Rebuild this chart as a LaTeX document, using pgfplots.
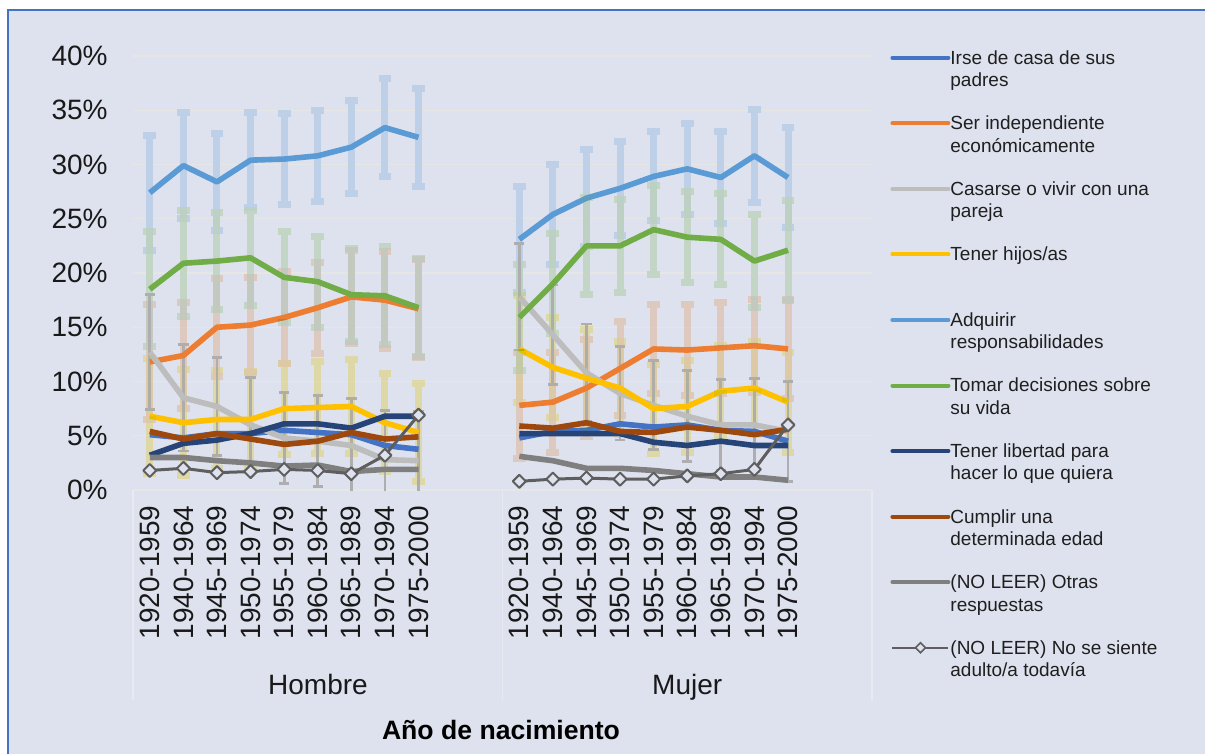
\documentclass[border=0pt]{standalone}
\usepackage{pgfplots}
\pgfplotsset{compat=1.18}
\usepackage{pgfplotstable}
\usepackage{fontspec}
\setmainfont{Liberation Sans}

\definecolor{bg}{RGB}{222,226,238}
\definecolor{gridcol}{RGB}{230,230,228}
\definecolor{sepcol}{RGB}{232,234,241}
\definecolor{bordercol}{RGB}{68,114,196}
\definecolor{irse}{HTML}{4472C4}
\definecolor{ser}{HTML}{ED7D31}
\definecolor{cas}{HTML}{BDBDBD}
\definecolor{casbar}{HTML}{A5A5A5}
\definecolor{hij}{HTML}{FFC000}
\definecolor{adq}{HTML}{5B9BD5}
\definecolor{tom}{HTML}{70AD47}
\definecolor{lib}{HTML}{264478}
\definecolor{cum}{HTML}{9E480E}
\definecolor{otr}{HTML}{7F7F7F}
\definecolor{nosc}{HTML}{5E5E5E}

\pgfplotstableread{
x irse ser cas hij adq tom lib cum otr nos err
0 5.1 11.8 12.7 6.8 27.4 18.5 3.2 5.4 3.0 1.8 5.3
1 4.8 12.4 8.5 6.2 29.9 20.9 4.3 4.7 3.0 2.0 4.9
2 5.2 15.0 7.7 6.5 28.4 21.1 4.6 5.2 2.7 1.6 4.5
3 5.2 15.2 6.0 6.5 30.4 21.4 5.2 4.7 2.5 1.7 4.4
4 5.5 15.9 4.8 7.5 30.5 19.6 6.1 4.2 2.2 1.9 4.2
5 5.3 16.8 4.5 7.6 30.8 19.2 6.1 4.5 2.3 1.8 4.2
6 5.1 17.8 4.1 7.7 31.6 18.0 5.7 5.3 1.7 1.5 4.3
7 4.1 17.5 2.8 6.2 33.4 17.9 6.8 4.7 1.9 3.2 4.5
8 3.75 16.7 2.7 5.3 32.5 16.8 6.8 4.9 1.9 6.9 4.5
}\hombre

\pgfplotstableread{
x irse ser cas hij adq tom lib cum otr nos err
11 4.8 7.8 17.8 13.0 23.1 15.9 5.2 5.9 3.1 0.8 4.9
12 5.4 8.1 14.3 11.3 25.4 19.0 5.2 5.7 2.7 1.0 4.6
13 5.5 9.4 10.8 10.3 26.9 22.5 5.2 6.2 2.0 1.1 4.5
14 6.1 11.2 8.9 9.4 27.8 22.5 5.2 5.4 2.0 1.0 4.3
15 5.8 13.0 7.8 7.5 28.9 24.0 4.4 5.3 1.8 1.0 4.1
16 6.0 12.9 6.8 7.7 29.6 23.3 4.1 5.8 1.5 1.3 4.2
17 5.5 13.1 6.0 9.1 28.8 23.1 4.5 5.5 1.2 1.5 4.2
18 5.4 13.3 6.0 9.4 30.8 21.1 4.1 5.1 1.2 1.9 4.3
19 4.5 13.0 5.4 8.1 28.8 22.1 4.1 5.6 0.9 6.0 4.6
}\mujer

\pgfplotsset{
  ebthick/.style={forget plot, draw=none, mark=none,
    error bars/.cd, y dir=both, y explicit,
    error bar style={draw=#1, line width=3.5pt, blend mode=darken},
    error mark=none},
  ebthin/.style={forget plot, draw=none, mark=none,
    error bars/.cd, y dir=both, y explicit,
    error bar style={draw=#1, line width=1.4pt, blend mode=darken},
    error mark=none},
  capthick/.style={forget plot, only marks, mark=-, mark size=3.2pt,
    restrict y to domain=0:50,
    mark options={draw=#1, line width=3.5pt, blend mode=darken}},
  capthin/.style={forget plot, only marks, mark=-, mark size=2.6pt,
    restrict y to domain=0:50,
    mark options={draw=#1, line width=1.4pt, blend mode=darken}},
}

% #1 column, #2 colour, #3 bar style, #4 cap style
\newcommand\ebar[4]{%
  \addplot[#3={#2}] table[x=x,y=#1,y error=err]{\hombre};
  \addplot[#3={#2}] table[x=x,y=#1,y error=err]{\mujer};
  \addplot[#4={#2}] table[x=x,y expr=\thisrow{#1}+\thisrow{err}]{\hombre};
  \addplot[#4={#2}] table[x=x,y expr=\thisrow{#1}-\thisrow{err}]{\hombre};
  \addplot[#4={#2}] table[x=x,y expr=\thisrow{#1}+\thisrow{err}]{\mujer};
  \addplot[#4={#2}] table[x=x,y expr=\thisrow{#1}-\thisrow{err}]{\mujer};}
\newcommand\serie[2]{%
  \addplot[forget plot, line width=2.8pt, line join=round, #2] table[x=x,y=#1]{\hombre};
  \addplot[forget plot, line width=2.8pt, line join=round, #2] table[x=x,y=#1]{\mujer};}
\newcommand\leg[1]{\parbox[t]{140pt}{\strut #1}}

\begin{document}
\begin{tikzpicture}
\fill[white] (0,0) rectangle (602.5pt,-377pt);
\fill[bg] (4.2pt,-5pt) rectangle (602.5pt,-377pt);
\draw[bordercol, line width=1pt] (4.2pt,-377pt) -- (4.2pt,-5pt) -- (602.5pt,-5pt);
\begin{axis}[
  at={(66.5pt,-245pt)}, anchor=south west,
  scale only axis, width=369.5pt, height=217pt,
  xmin=-0.5, xmax=21.5, ymin=0, ymax=40,
  axis line style={draw=none}, tick style={draw=none},
  major tick length=0pt,
  ytick={0,5,...,40},
  yticklabel={\pgfmathprintnumber{\tick}\%},
  ymajorgrids, grid style={gridcol, line width=0.65pt},
  xtick={0,1,2,3,4,5,6,7,8,11,12,13,14,15,16,17,18,19},
  xticklabels={1920-1959,1940-1964,1945-1969,1950-1974,1955-1979,1960-1984,1965-1989,1970-1994,1975-2000,1920-1959,1940-1964,1945-1969,1950-1974,1955-1979,1960-1984,1965-1989,1970-1994,1975-2000},
  /pgf/number format/assume math mode=true,
  tick label style={font=\fontsize{14}{16}\selectfont, text=black!90},
  yticklabel style={anchor=east, inner sep=0pt, xshift=-12.5pt},
  xticklabel style={yshift=-7.5pt, rotate=90, anchor=east, inner sep=0pt},
  legend image code/.code={\path[draw=none,fill=none] (0pt,-3pt) rectangle (28pt,3pt); \draw[#1, line width=2pt, line cap=round] (0pt,0pt) -- (28pt,0pt);},
  legend cell align=left,
  legend style={at={(axis description cs:1.0244,1.0184)}, anchor=north west,
    draw=none, fill=none, text=black!88,
    font=\fontsize{9.5}{11.25}\selectfont,
    row sep=23.4pt, inner sep=0pt, nodes={inner sep=0pt},
    /tikz/every even column/.append style={column sep=2pt}},
]
% error bars
\ebar{ser}{ser!25!bg}{ebthick}{capthick}
\ebar{cas}{casbar!85!bg}{ebthin}{capthin}
\ebar{hij}{hij!30!bg}{ebthick}{capthick}
\ebar{adq}{adq!25!bg}{ebthick}{capthick}
\ebar{tom}{tom!25!bg}{ebthick}{capthick}
% lines
\serie{irse}{irse}
\serie{ser}{ser}
\serie{cas}{cas}
\serie{hij}{hij}
\serie{adq}{adq}
\serie{tom}{tom}
\serie{lib}{lib}
\serie{cum}{cum}
\serie{otr}{otr}
\serie{nos}{nosc, line width=1.5pt, mark=square*, mark size=2.3pt, mark options={rotate=45, fill=bg, draw=nosc, line width=1pt, solid}}
% legend
\addlegendimage{irse}\addlegendentry{\leg{Irse de casa de sus\\padres}}
\addlegendimage{ser}\addlegendentry{\leg{Ser independiente\\económicamente}}
\addlegendimage{cas}\addlegendentry{\leg{Casarse o vivir con una\\pareja}}
\addlegendimage{hij}\addlegendentry{\leg{Tener hijos/as}}
\addlegendimage{adq}\addlegendentry{\leg{Adquirir\\responsabilidades}}
\addlegendimage{tom}\addlegendentry{\leg{Tomar decisiones sobre\\su vida}}
\addlegendimage{lib}\addlegendentry{\leg{Tener libertad para\\hacer lo que quiera}}
\addlegendimage{cum}\addlegendentry{\leg{Cumplir una\\determinada edad}}
\addlegendimage{otr}\addlegendentry{\leg{(NO LEER) Otras\\respuestas}}
\addlegendimage{legend image code/.code={\path[draw=none,fill=none] (0pt,-3pt) rectangle (28pt,3pt); \draw[nosc, line width=1pt] (0pt,0pt) -- (28pt,0pt); \draw[nosc, fill=bg, line width=0.8pt] (14pt,2.5pt) -- (16.5pt,0pt) -- (14pt,-2.5pt) -- (11.5pt,0pt) -- cycle;}}\addlegendentry{\leg{(NO LEER) No se siente\\adulto/a todavía}}
\end{axis}
\draw[sepcol, line width=0.6pt] (66.5pt,-245pt) -- (66.5pt,-350pt);
\draw[sepcol, line width=0.6pt] (251.2pt,-245pt) -- (251.2pt,-350pt);
\draw[sepcol, line width=0.6pt] (436pt,-245pt) -- (436pt,-350pt);
\node[font=\fontsize{14}{16}\selectfont, text=black!90, anchor=base] at (159pt,-347pt) {Hombre};
\node[font=\fontsize{14}{16}\selectfont, text=black!90, anchor=base] at (343.6pt,-347pt) {Mujer};
\node[font=\bfseries\fontsize{13.3}{16}\selectfont, text=black] at (250.5pt,-365pt) {Año de nacimiento};
\pgfresetboundingbox
\useasboundingbox (0,0) rectangle (602.5pt,-377pt);
\end{tikzpicture}
\end{document}
